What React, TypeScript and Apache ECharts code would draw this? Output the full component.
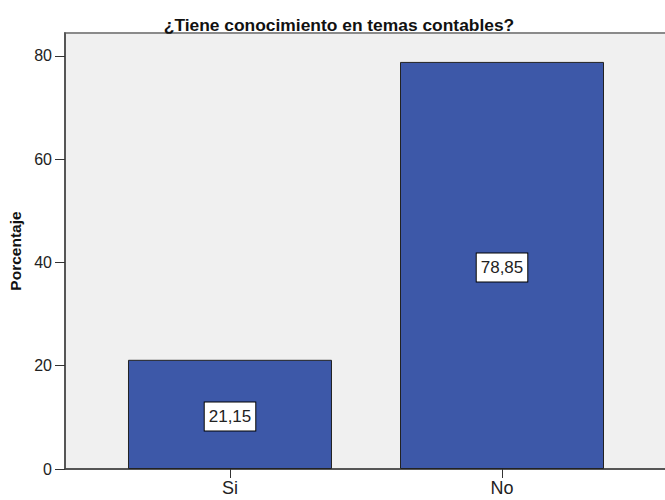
import React, { useEffect, useRef } from "react";
import * as echarts from "echarts";

const categories = ["Si", "No"];
const values = [21.15, 78.85];
const valueLabels = ["21,15", "78,85"];
const yTicks = [0, 20, 40, 60, 80];
const title = "¿Tiene conocimiento en temas contables?";
const yName = "Porcentaje";

export default function App() {
  const ref = useRef<HTMLDivElement>(null);
  useEffect(() => {
    const chart = echarts.init(ref.current!, null, { renderer: "svg" });
    const font = "'Liberation Sans', Arial, sans-serif";
    chart.setOption({
      animation: false,
      textStyle: { fontFamily: font },
      title: {
        text: title,
        left: 334,
        top: 11,
        textAlign: "center",
        textStyle: { fontSize: 17.4, fontWeight: "bold", color: "#111", fontFamily: font },
      },
      grid: {
        left: 65,
        right: -2,
        top: 33,
        bottom: 31,
        containLabel: false,
        outerBoundsMode: "none",
        show: true,
        backgroundColor: "#f0f0f0",
        borderColor: "#8a8a8a",
        borderWidth: 2,
      },
      xAxis: {
        type: "value",
        min: -0.6066,
        max: 1.6066,
        splitLine: { show: false },
        axisLine: { show: true, onZero: false, lineStyle: { color: "#444", width: 1.5 } },
        axisTick: { show: true, length: 9, customValues: [0, 1], lineStyle: { color: "#333" } },
        axisLabel: {
          customValues: [0, 1],
          formatter: (v: number) => categories[Math.round(v)] ?? "",
          fontSize: 18,
          color: "#222",
          margin: 10,
          fontFamily: font,
        },
      },
      yAxis: {
        type: "value",
        min: 0,
        max: 84.45,
        name: yName,
        nameLocation: "middle",
        nameGap: 41,
        nameTextStyle: { fontSize: 15.5, fontWeight: "bold", color: "#111", fontFamily: font },
        splitLine: { show: false },
        axisLine: { show: true, onZero: false, lineStyle: { color: "#444", width: 1.5 } },
        axisTick: { show: true, length: 10, customValues: yTicks, lineStyle: { color: "#333" } },
        axisLabel: { customValues: yTicks, fontSize: 16, color: "#222", margin: 13, fontFamily: font },
      },
      series: [
        {
          type: "bar",
          barWidth: 204,
          data: values.map((v, i) => [i, v]),
          itemStyle: { color: "#3d58a8", borderColor: "#222", borderWidth: 1 },
          label: {
            show: true,
            position: "inside",
            offset: [0, 2],
            formatter: (p: any) => valueLabels[p.dataIndex],
            fontSize: 17,
            lineHeight: 20,
            color: "#222",
            backgroundColor: "#fff",
            borderColor: "#000",
            borderWidth: 1,
            padding: [4, 4, 4, 4],
            fontFamily: font,
          },
        },
      ],
    });
    return () => chart.dispose();
  }, []);
  return (
    <div
      ref={ref}
      style={{ position: "absolute", left: 0, top: 0, width: 665, height: 500 }}
    />
  );
}
